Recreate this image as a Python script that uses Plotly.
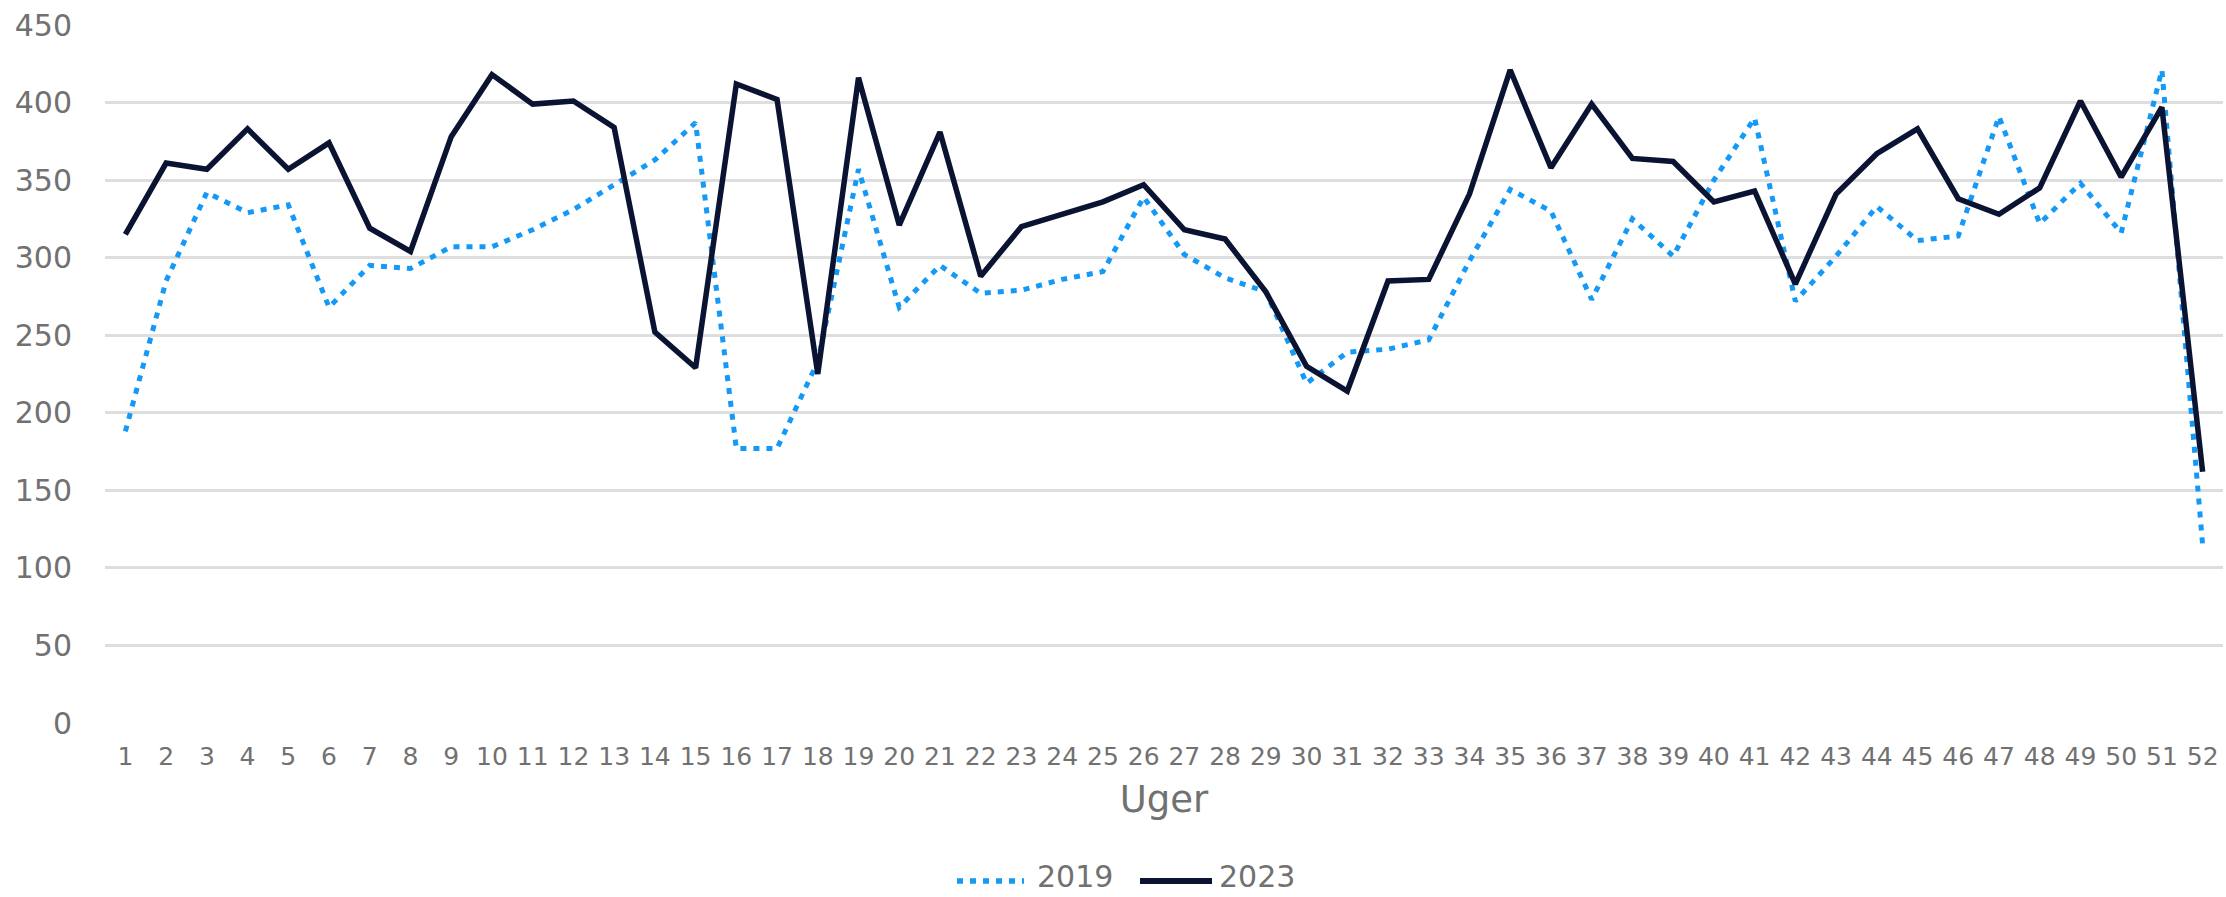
import plotly.graph_objects as go

weeks = list(range(1, 53))
tick_labels = [str(w) for w in weeks]

values_2019 = [188, 285, 342, 329, 334, 268, 295, 293, 307, 307,
               318, 331, 347, 363, 387, 177, 177, 233, 357, 268,
               295, 277, 279, 286, 291, 339, 302, 287, 278, 219,
               239, 241, 247, 298, 344, 330, 273, 325, 301, 350,
               390, 272, 301, 333, 311, 314, 391, 322, 348, 316,
               421, 115]

values_2023 = [315, 361, 357, 383, 357, 374, 319, 304, 378, 418,
               399, 401, 384, 252, 229, 412, 402, 225, 416, 321,
               381, 288, 320, 328, 336, 347, 318, 312, 278, 230,
               214, 285, 286, 341, 421, 358, 399, 364, 362, 336,
               343, 283, 341, 367, 383, 338, 328, 345, 401, 352,
               397, 162]

series_names = ["2019", "2023"]
y_ticks = list(range(0, 451, 50))

FONT = "DejaVu Sans, sans-serif"
TEXT = "#717171"
C2019 = "#1499f7"
C2023 = "#0a1432"
DOT = "6px,7px"

W, H = 2226, 897
ML, MR, MT, MB = 105, 3, 25, 174
PW = W - ML - MR
PH = H - MT - MB

def px_x(p):
    return (p - ML) / PW

def px_y(p):
    return (H - MB - p) / PH

fig = go.Figure()
fig.add_trace(go.Scatter(
    x=weeks, y=values_2019, name=series_names[0], mode="lines",
    line=dict(color=C2019, width=5, dash=DOT),
    showlegend=False,
))
fig.add_trace(go.Scatter(
    x=weeks, y=values_2023, name=series_names[1], mode="lines",
    line=dict(color=C2023, width=5.5),
    showlegend=False,
))

# manual legend (longer samples as in the reference)
line_y = px_y(881)
text_y = px_y(876)
legend_items = [
    (series_names[0], C2019, dict(dash=DOT, width=5.5), 957, 1024, 1035),
    (series_names[1], C2023, dict(width=6), 1140, 1212, 1217),
]
for name, col, ls, x0, x1, xt in legend_items:
    fig.add_shape(type="line", xref="paper", yref="paper",
                  x0=px_x(x0), x1=px_x(x1), y0=line_y, y1=line_y,
                  line=dict(color=col, **ls))
    fig.add_annotation(xref="paper", yref="paper", x=px_x(xt), y=text_y,
                       text=name, showarrow=False, xanchor="left", yanchor="middle",
                       font=dict(size=30, color=TEXT, family=FONT))

fig.update_layout(
    width=W, height=H,
    margin=dict(l=ML, r=MR, t=MT, b=MB),
    plot_bgcolor="white", paper_bgcolor="white",
    font=dict(family=FONT, size=30, color=TEXT),
    showlegend=False,
)
fig.update_xaxes(
    range=[0.5, 52.5], tickmode="array", tickvals=weeks, ticktext=tick_labels,
    showgrid=False, zeroline=False, showline=False,
    ticks="", ticklabelstandoff=16,
    tickfont=dict(size=25, color=TEXT),
    title=dict(text="Uger", font=dict(size=37, color=TEXT), standoff=16),
)
fig.update_yaxes(
    range=[0, 450], tickmode="array", tickvals=y_ticks,
    showgrid=True, gridcolor="#dedede", gridwidth=2.5,
    zeroline=False, showline=False, ticks="", ticklabelstandoff=32,
    tickfont=dict(size=30, color=TEXT),
)

fig.write_html(
    "out.html",
    config={"displayModeBar": False},
    post_script="document.body.style.margin='0';document.body.style.padding='0';",
)
